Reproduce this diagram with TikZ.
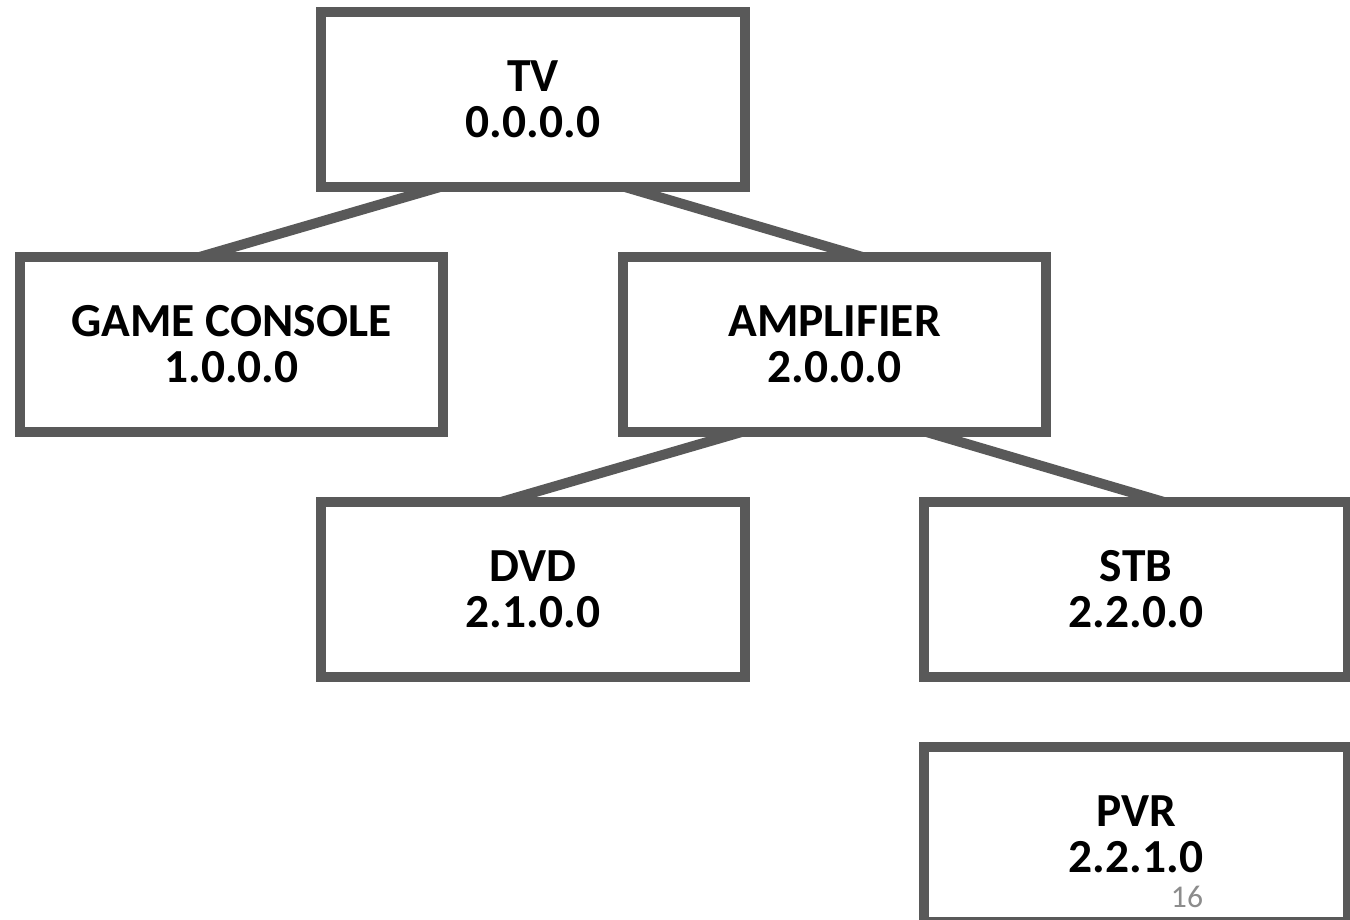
\documentclass[tikz,border=0pt]{standalone}
\usepackage{fontspec}
\setmainfont{Carlito}
\definecolor{boxgray}{HTML}{595959}
\definecolor{numgray}{HTML}{8C8C8C}
\begin{document}
\begin{tikzpicture}[x=0.02cm,y=-0.02cm]
        \tikzset{device/.style = {draw=boxgray, line width=5.7pt, fill=white, outer sep=0pt, inner sep=0pt, minimum width=8.48cm, minimum height=3.5cm, align=center, font=\bfseries\fontsize{27}{26.2}\selectfont}};
        \tikzset{link/.style = {draw=boxgray, line width=5.7pt}};
        \useasboundingbox (0,0) rectangle (1350,920);
        \node[device] (tv) at (533,99.5) {TV\\0.0.0.0};
        \node[device] (game) at (231.5,344.5) {GAME CONSOLE\\1.0.0.0};
        \node[device] (amp) at (834.5,344.5) {AMPLIFIER\\2.0.0.0};
        \node[device] (dvd) at (533,589.5) {DVD\\2.1.0.0};
        \node[device] (stb) at (1136,589.5) {STB\\2.2.0.0};
        \node[device] (pvr) at (1136,834.5) {PVR\\2.2.1.0};
        \draw[link] ([xshift=2.38cm]tv.south west) to ([xshift=3.6cm]game.north west);
        \draw[link] ([xshift=6.08cm]tv.south west) to ([xshift=4.8cm]amp.north west);
        \draw[link] ([xshift=2.38cm]amp.south west) to ([xshift=3.6cm]dvd.north west);
        \draw[link] ([xshift=6.08cm]amp.south west) to ([xshift=4.8cm]stb.north west);
        \node[text=numgray, font=\fontsize{18}{20}\selectfont, anchor=base] (pagenum) at (1187,907) {16};
\end{tikzpicture}
\end{document}
